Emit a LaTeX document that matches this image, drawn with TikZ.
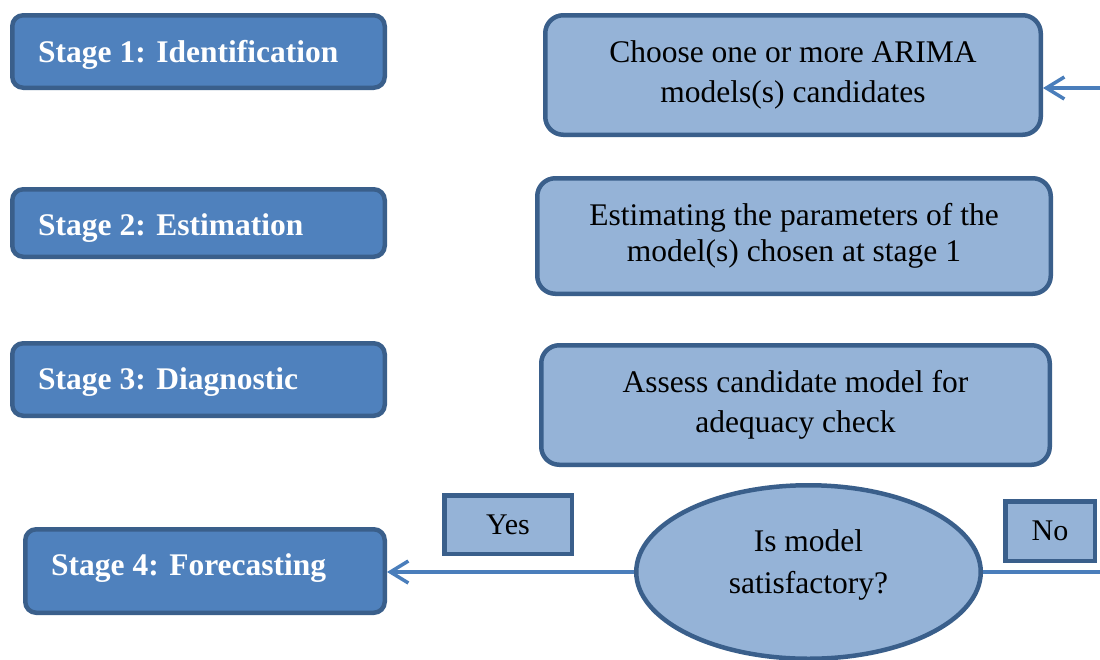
\documentclass[tikz,border=0pt]{standalone}
\usepackage{fontspec}
\setmainfont{LiberationSerif}[Extension=.ttf, UprightFont=*-Regular, BoldFont=*-Bold, ItalicFont=*-Italic, BoldItalicFont=*-BoldItalic]
\usetikzlibrary{arrows.meta,shapes.geometric}
\definecolor{stagefill}{HTML}{4F81BD}
\definecolor{edgeblue}{HTML}{3A5F8B}
\definecolor{taskfill}{HTML}{95B3D7}
\definecolor{linkblue}{HTML}{4A7EBB}

\begin{document}
\begin{tikzpicture}[x=1pt,y=-1pt,
  stagebox/.style={draw=edgeblue, fill=stagefill, line width=4.5pt, rounded corners=11pt, inner sep=0pt},
  stagetext/.style={anchor=base west, inner sep=0pt, text=white, font=\fontsize{31.5}{38}\selectfont\bfseries},
  taskbox/.style={draw=edgeblue, fill=taskfill, line width=4.5pt, rounded corners=18pt, align=center, inner sep=0pt},
  decision/.style={ellipse, draw=edgeblue, fill=taskfill, line width=4.5pt, inner sep=0pt},
  tagbox/.style={draw=edgeblue, fill=taskfill, line width=4.5pt, inner sep=0pt, font=\fontsize{30}{36}\selectfont},
  link/.style={draw=linkblue, line width=3.5pt},
  linkarrow/.style={link, -{Straight Barb[length=18pt,width=22pt]}}
]
\useasboundingbox (0,0) rectangle (1100,659);

% stage labels on the left
\node[stagebox, minimum width=372.5pt, minimum height=72.5pt] (s1) at (198.5,51.5) {};
\node[stagebox, minimum width=372.5pt, minimum height=67.5pt] (s2) at (198.5,223) {};
\node[stagebox, minimum width=372.5pt, minimum height=72.5pt] (s3) at (198.5,379.5) {};
\node[stagebox, minimum width=359.5pt, minimum height=83.5pt] (s4) at (205,571) {};
\node[stagetext] (s1t) at (38,62) {Stage 1: Identification};
\node[stagetext] (s2t) at (38,235) {Stage 2: Estimation};
\node[stagetext] (s3t) at (38,389) {Stage 3: Diagnostic};
\node[stagetext] (s4t) at (51,575) {Stage 4: Forecasting};

% tasks of each stage
\node[taskbox, minimum width=495.5pt, minimum height=119.5pt, font=\fontsize{31.5}{40}\selectfont]
  (c1) at (793,75) {Choose one or more ARIMA\\models(s) candidates};
\node[taskbox, minimum width=513.5pt, minimum height=115.5pt, font=\fontsize{31.5}{36}\selectfont]
  (c2) at (794,236) {Estimating the parameters of the\\model(s) chosen at stage 1};
\node[taskbox, minimum width=508.5pt, minimum height=119.5pt, font=\fontsize{31.5}{40}\selectfont]
  (c3) at (795.5,405) {Assess candidate model for\\adequacy check};

% decision
\node[decision, minimum width=344.5pt, minimum height=173.5pt] (q) at (808.5,572) {};
\node[align=center, inner sep=0pt, font=\fontsize{31.5}{42}\selectfont] (qt) at (808.5,565) {Is model\\satisfactory?};

\node[tagbox, minimum width=127.5pt, minimum height=58.5pt] (yes) at (508,524.5) {Yes};
\node[tagbox, minimum width=89.5pt, minimum height=59.5pt] (no) at (1050,531) {No};

% connectors
\coordinate (loopin) at (1100,88);
\coordinate (loopout) at (1100,572);
\draw[linkarrow] (q.west) -- (q.west -| s4.east);
\draw[link] (q.east) -- (loopout);
\draw[linkarrow] (loopin) -- (loopin -| c1.east);
\end{tikzpicture}
\end{document}
